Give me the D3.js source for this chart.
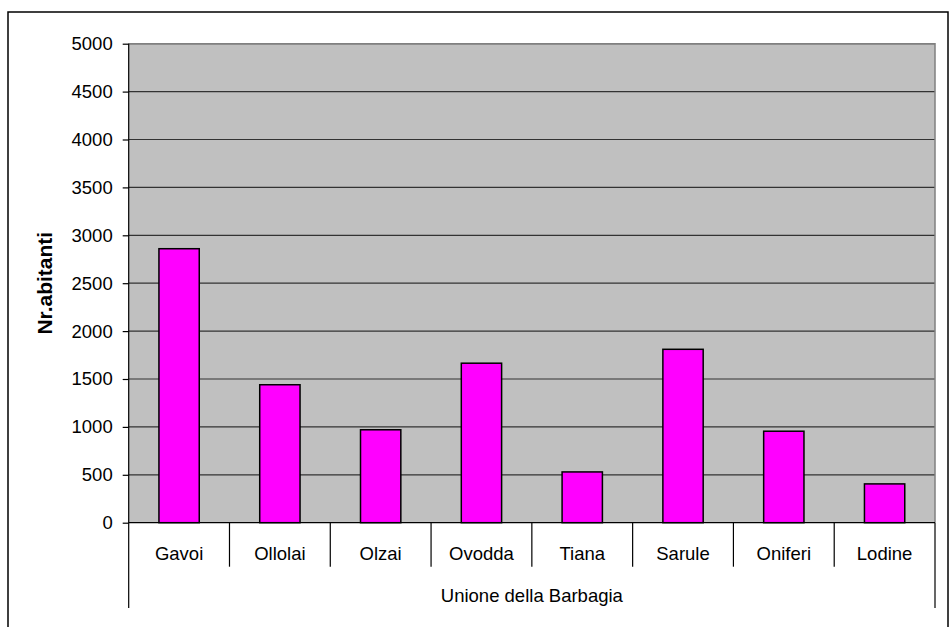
<!DOCTYPE html>
<html>
<head>
<meta charset="utf-8">
<script src="https://cdn.jsdelivr.net/npm/d3@7"></script>
<style>
  html, body { margin: 0; padding: 0; background: #fff; }
  svg { display: block; font-family: Arial, "Liberation Sans", sans-serif; }
</style>
</head>
<body>
<svg id="chart" width="951" height="627"></svg>
<script>
const categories = ["Gavoi", "Ollolai", "Olzai", "Ovodda", "Tiana", "Sarule", "Oniferi", "Lodine"];
const abitanti = [2860, 1440, 970, 1665, 530, 1810, 955, 405];
const yTicks = [0, 500, 1000, 1500, 2000, 2500, 3000, 3500, 4000, 4500, 5000];
const groupLabel = "Unione della Barbagia";
const yTitle = "Nr.abitanti";

(function () {
const svg = d3.select("#chart");
const pL = 128.7, pR = 935, pT = 43.7, pB = 522.7;

// outer border
svg.append("rect").attr("x", 8).attr("y", 12).attr("width", 940).attr("height", 640)
  .attr("fill", "none").attr("stroke", "#000").attr("stroke-width", 1.5);

const x = d3.scaleBand().domain(categories).range([pL, pR])
  .paddingInner(0.6).paddingOuter(0.3);
const y = d3.scaleLinear().domain([0, 5000]).range([pB, pT]);
const step = x.step();

// plot background
svg.append("rect").attr("x", pL).attr("y", pT).attr("width", pR - pL).attr("height", pB - pT)
  .attr("fill", "#c0c0c0");

// gridlines
svg.append("g").selectAll("line").data(yTicks.filter(d => d > 0)).join("line")
  .attr("x1", pL).attr("x2", pR)
  .attr("y1", d => y(d)).attr("y2", d => y(d))
  .attr("stroke", "#333").attr("stroke-width", 1.2);

// plot border top/right
svg.append("path")
  .attr("d", `M${pL},${pT}H${pR}V${pB}`)
  .attr("fill", "none").attr("stroke", "#808080").attr("stroke-width", 1.5);

// bars
svg.append("g").selectAll("rect").data(categories).join("rect")
  .attr("x", d => x(d))
  .attr("y", (d, i) => y(abitanti[i]))
  .attr("width", x.bandwidth())
  .attr("height", (d, i) => y(0) - y(abitanti[i]))
  .attr("fill", "#ff00ff").attr("stroke", "#000").attr("stroke-width", 1.5);

// y axis
const yAxis = d3.axisLeft(y).tickValues(yTicks).tickSize(6).tickPadding(10).tickFormat(d3.format("d"));
const gy = svg.append("g").attr("transform", `translate(${pL},0)`).call(yAxis);
gy.select(".domain").remove();
gy.selectAll(".tick line").attr("stroke", "#000").attr("stroke-width", 1.2);
gy.selectAll(".tick text").attr("font-size", 18.5).attr("fill", "#000")
  .attr("font-family", "Arial, 'Liberation Sans', sans-serif");
svg.append("line").attr("x1", pL).attr("x2", pL).attr("y1", pT).attr("y2", 608)
  .attr("stroke", "#000").attr("stroke-width", 1.2);

// x axis baseline
svg.append("line").attr("x1", pL).attr("x2", pR).attr("y1", pB).attr("y2", pB)
  .attr("stroke", "#000").attr("stroke-width", 1.2);

// category separators
const seps = d3.range(1, categories.length).map(i => pL + i * step);
svg.append("g").selectAll("line").data(seps).join("line")
  .attr("x1", d => d).attr("x2", d => d).attr("y1", pB).attr("y2", 566.7)
  .attr("stroke", "#000").attr("stroke-width", 1.2);
svg.append("line").attr("x1", pR).attr("x2", pR).attr("y1", pB).attr("y2", 608)
  .attr("stroke", "#000").attr("stroke-width", 1.2);

// category labels
svg.append("g").selectAll("text").data(categories).join("text")
  .attr("x", d => x(d) + x.bandwidth() / 2)
  .attr("y", 553.5).attr("dy", "0.35em")
  .attr("text-anchor", "middle").attr("font-size", 18.5).attr("fill", "#000")
  .text(d => d);

// group label
svg.append("text").attr("x", (pL + pR) / 2).attr("y", 595.5).attr("dy", "0.35em")
  .attr("text-anchor", "middle").attr("font-size", 18.5).attr("fill", "#000")
  .text(groupLabel);

// y title
svg.append("text")
  .attr("transform", `translate(44.5,${(pT + pB) / 2}) rotate(-90)`)
  .attr("dy", "0.35em").attr("text-anchor", "middle")
  .attr("font-size", 21).attr("font-weight", "bold").attr("fill", "#000")
  .text(yTitle);
})();
</script>
</body>
</html>
